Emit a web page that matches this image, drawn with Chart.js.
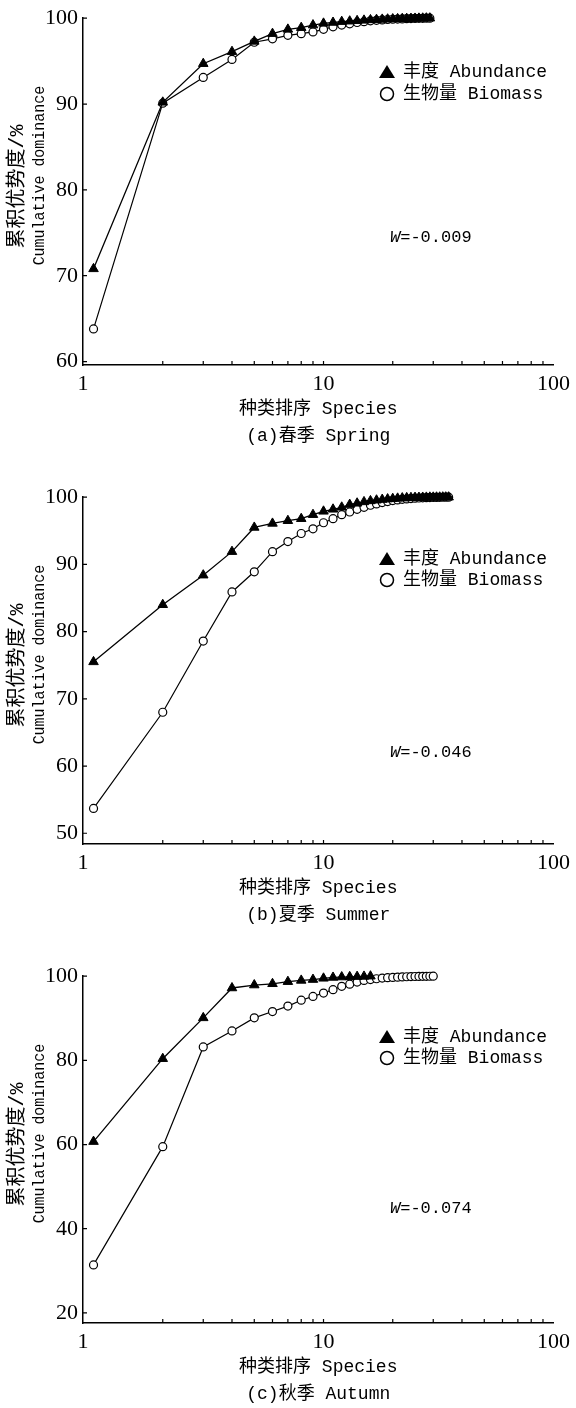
<!DOCTYPE html>
<html>
<head>
<meta charset="utf-8">
<script src="https://cdn.jsdelivr.net/npm/chart.js@4.4.1/dist/chart.umd.min.js"></script>
<style>
  body { margin: 0; background: #fff; overflow: hidden; }
  canvas { position: absolute; left: 0; }
</style>
</head>
<body>
<canvas id="graficoPrimavera" style="top:0px" width="576" height="479"></canvas>
<canvas id="graficoVerao" style="top:479px" width="576" height="479"></canvas>
<canvas id="graficoOutono" style="top:958px" width="576" height="450"></canvas>
<script>
// valores (dominância acumulada, %) por posição da espécie
const springAbundance = [70.8, 90.2, 94.7, 96.1, 97.3, 98.2, 98.7, 98.9, 99.2, 99.4, 99.5, 99.6, 99.65, 99.7, 99.75, 99.8, 99.83, 99.86, 99.88, 99.9, 99.92, 99.94, 99.95, 99.96, 99.97, 99.98, 99.99, 100, 100];
const springBiomass = [63.8, 90.1, 93.1, 95.2, 97.2, 97.6, 98.0, 98.2, 98.4, 98.7, 99.0, 99.2, 99.35, 99.5, 99.6, 99.7, 99.75, 99.8, 99.85, 99.88, 99.9, 99.92, 99.94, 99.96, 99.97, 99.98, 99.99, 100, 100];

const summerAbundance = [75.5, 84.0, 88.4, 91.9, 95.5, 96.1, 96.5, 96.8, 97.4, 97.9, 98.2, 98.5, 98.9, 99.1, 99.3, 99.45, 99.55, 99.65, 99.72, 99.78, 99.83, 99.87, 99.9, 99.92, 99.94, 99.95, 99.96, 99.97, 99.98, 99.98, 99.99, 99.99, 100, 100, 100];
const summerBiomass = [53.7, 68.0, 78.6, 85.9, 88.9, 91.9, 93.4, 94.6, 95.3, 96.2, 96.8, 97.4, 97.8, 98.2, 98.5, 98.8, 99.0, 99.2, 99.35, 99.5, 99.6, 99.68, 99.75, 99.8, 99.85, 99.88, 99.91, 99.93, 99.95, 99.96, 99.97, 99.98, 99.99, 100, 100];

const autumnAbundance = [60.7, 80.4, 90.1, 97.2, 97.9, 98.2, 98.7, 99.0, 99.2, 99.5, 99.7, 99.8, 99.85, 99.9, 99.95, 100];
const autumnBiomass = [31.4, 59.5, 83.2, 87.0, 90.1, 91.6, 92.9, 94.3, 95.2, 96.0, 96.8, 97.6, 98.1, 98.6, 99.0, 99.2, 99.4, 99.55, 99.65, 99.72, 99.78, 99.83, 99.87, 99.9, 99.93, 99.95, 99.97, 99.98, 99.99, 100];

const springYTicks = [60, 70, 80, 90, 100];
const summerYTicks = [50, 60, 70, 80, 90, 100];
const autumnYTicks = [20, 40, 60, 80, 100];

const xTickValues = [0.9, 10, 100];
const xTickLabels = ["1", "10", "100"];
const xMinorTicks = [2, 3, 4, 5, 6, 7, 8, 9, 10, 20, 30, 40, 50, 60, 70, 80, 90];

const seriesNames = ["丰度 Abundance", "生物量 Biomass"];
const xTitle = "种类排序 Species";
const yTitle = ["累积优势度/%", "Cumulative dominance"];

const MONO = '"Liberation Mono", "Noto Sans CJK SC", monospace';
const SERIF = '"Liberation Serif", "Noto Sans CJK SC", serif';

Chart.defaults.color = "#000";
Chart.defaults.font.family = MONO;

// transforma a lista de valores em pontos {x: posição, y: valor}
function pontos(valores) {
  return valores.map((v, i) => ({ x: i + 1, y: v }));
}

// desenha os traços internos dos eixos, o título do eixo y, a legenda e o valor de W
const notasDoPainel = {
  id: "notasDoPainel",
  afterDraw(chart, args, opts) {
    const { ctx, chartArea: area, scales } = chart;
    const x = scales.x;
    const y = scales.y;
    ctx.save();
    ctx.strokeStyle = "#000";
    ctx.lineWidth = 1.2;
    ctx.beginPath();
    xMinorTicks.forEach((v) => {
      const px = x.getPixelForValue(v);
      ctx.moveTo(px, area.bottom);
      ctx.lineTo(px, area.bottom - 4);
    });
    opts.yTicks.forEach((v) => {
      const py = y.getPixelForValue(v);
      ctx.moveTo(area.left, py);
      ctx.lineTo(area.left + 4, py);
    });
    ctx.stroke();

    // título do eixo y (duas linhas com tamanhos diferentes)
    const meio = (area.top + area.bottom) / 2;
    ctx.fillStyle = "#000";
    ctx.textAlign = "center";
    ctx.textBaseline = "middle";
    ctx.save();
    ctx.translate(17.5, meio - 5);
    ctx.rotate(-Math.PI / 2);
    ctx.font = "20px " + MONO;
    ctx.fillText(yTitle[0], 0, 0);
    ctx.restore();
    ctx.save();
    ctx.translate(39, meio - 16);
    ctx.rotate(-Math.PI / 2);
    ctx.scale(0.88, 1);
    ctx.font = "17px " + MONO;
    ctx.fillText(yTitle[1], 0, 0);
    ctx.restore();

    // legenda
    const lx = 387;
    const [y1, y2] = opts.legendY;
    ctx.beginPath();
    ctx.moveTo(lx, y1 - 7);
    ctx.lineTo(lx + 8, y1 + 6);
    ctx.lineTo(lx - 8, y1 + 6);
    ctx.closePath();
    ctx.fill();
    ctx.beginPath();
    ctx.lineWidth = 1.5;
    ctx.arc(lx, y2, 6.5, 0, Math.PI * 2);
    ctx.stroke();
    ctx.font = "18px " + MONO;
    ctx.textAlign = "left";
    ctx.fillText(seriesNames[0], 403, y1);
    ctx.fillText(seriesNames[1], 403, y2);

    // W
    ctx.font = "italic 17px " + MONO;
    ctx.fillText("W", 390, opts.wY);
    const w = ctx.measureText("W").width;
    ctx.font = "17px " + MONO;
    ctx.fillText("=" + opts.wText, 390 + w, opts.wY);
    ctx.restore();
  },
};

function criaGrafico(id, abundancia, biomassa, yMin, yTicks, legenda, notas) {
  const canvas = document.getElementById(id);
  return new Chart(canvas, {
    type: "line",
    data: {
      datasets: [
        {
          label: seriesNames[0],
          data: pontos(abundancia),
          borderColor: "#000",
          borderWidth: 1.3,
          backgroundColor: "#000",
          pointStyle: "triangle",
          pointRadius: 5.5,
          pointBorderWidth: 1,
          clip: false,
        },
        {
          label: seriesNames[1],
          data: pontos(biomassa),
          borderColor: "#000",
          borderWidth: 1.2,
          backgroundColor: "#fff",
          pointStyle: "circle",
          pointRadius: 4,
          pointBorderWidth: 1.2,
          clip: false,
        },
      ],
    },
    options: {
      responsive: false,
      animation: false,
      devicePixelRatio: 1,
      layout: { padding: { left: 0, right: 17, top: 18, bottom: 0 } },
      plugins: {
        legend: { display: false },
        tooltip: { enabled: false },
        notasDoPainel: { yTicks: yTicks, legendY: notas.legendY, wY: notas.wY, wText: notas.wText },
      },
      scales: {
        x: {
          type: "logarithmic",
          min: 0.9,
          max: 100,
          grid: { display: false, drawTicks: false },
          border: { display: true, color: "#000", width: 1.5 },
          afterBuildTicks: (axis) => {
            axis.ticks = xTickValues.map((v) => ({ value: v }));
          },
          afterFit: (axis) => {
            axis.height = canvas.height - 365;
          },
          ticks: {
            autoSkip: false,
            maxRotation: 0,
            padding: 6,
            font: { family: SERIF, size: 22 },
            callback: (value, index) => xTickLabels[index],
          },
          title: {
            display: true,
            text: [xTitle, legenda],
            font: { size: 18, lineHeight: "27px" },
            padding: { top: 0, bottom: Math.max(0, canvas.height - 450) },
          },
        },
        y: {
          min: yMin,
          max: 100,
          grid: { display: false, drawTicks: false },
          border: { display: true, color: "#000", width: 1.5 },
          afterBuildTicks: (axis) => {
            axis.ticks = yTicks.map((v) => ({ value: v }));
          },
          afterFit: (axis) => {
            axis.width = 83;
          },
          ticks: {
            padding: 5,
            font: { family: SERIF, size: 22 },
          },
        },
      },
    },
    plugins: [notasDoPainel],
  });
}

criaGrafico("graficoPrimavera", springAbundance, springBiomass, 59.6, springYTicks, "(a)春季 Spring",
  { legendY: [72, 94], wY: 237, wText: "-0.009" });

criaGrafico("graficoVerao", summerAbundance, summerBiomass, 48.4, summerYTicks, "(b)夏季 Summer",
  { legendY: [80, 101], wY: 273, wText: "-0.046" });

criaGrafico("graficoOutono", autumnAbundance, autumnBiomass, 17.6, autumnYTicks, "(c)秋季 Autumn",
  { legendY: [79, 100], wY: 250, wText: "-0.074" });
</script>
</body>
</html>
